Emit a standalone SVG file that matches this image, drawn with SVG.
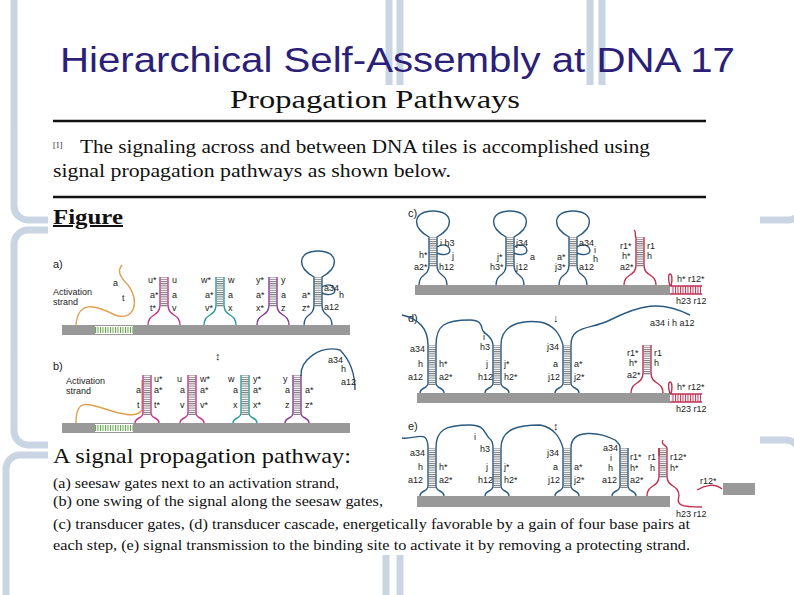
<svg xmlns="http://www.w3.org/2000/svg" xmlns:xlink="http://www.w3.org/1999/xlink" width="794" height="595" viewBox="0 0 794 595">
<style>
.tile{fill:#fff;stroke:#c9d5e3;stroke-width:7}
.ser{font-family:"Liberation Serif",serif;fill:#111}
.lb{font-family:"Liberation Sans",sans-serif;font-size:9px;fill:#222}
.pl{font-family:"Liberation Sans",sans-serif;font-size:11px;fill:#222}
.bar{fill:#999}
.st{fill:none;stroke-width:1.4}
</style>
<defs>
<pattern id="hat" width="4" height="2.2" patternUnits="userSpaceOnUse"><rect width="4" height="1" fill="#777"/></pattern>
<pattern id="hatg" width="2.5" height="4" patternUnits="userSpaceOnUse"><rect width="1" height="4" fill="#5aa040"/></pattern>
<pattern id="hatr" width="2.5" height="4" patternUnits="userSpaceOnUse"><rect width="1" height="4" fill="#c03050"/></pattern>
<g id="gate">
<rect x="-3.5" y="-48" width="7" height="30" fill="url(#hat)"/>
<path class="st" stroke="currentColor" d="M-16 0 C-16 -12 -4 -8 -4 -20 V-48 M4 -48 V-20 C4 -8 16 -12 16 0"/>
</g>
<g id="loopgate">
<rect x="-3.5" y="-48" width="7" height="30" fill="url(#hat)"/>
<path class="st" stroke="currentColor" d="M-14 0 C-14 -12 -4 -8 -4 -20 V-48 C-22 -58 -20 -74 0 -74 C20 -74 22 -58 4 -48 V-20 C4 -8 14 -12 14 0 M4 -38 C12 -43 19 -38 16 -32 C12 -29 6 -31 4 -32"/>
</g>
<g id="stem">
<rect x="-3.5" y="-48" width="7" height="40" fill="url(#hat)"/>
<path class="st" stroke="currentColor" d="M-12 0 C-12 -6 -4 -4 -4 -10 V-48 M4 -48 V-10 C4 -4 12 -6 12 0"/>
</g>
</defs>

<g id="background">
<rect width="794" height="595" fill="#fff"/>
<rect class="tile" x="14" y="-20" width="375" height="240" rx="14"/>
<rect class="tile" x="400" y="-20" width="190" height="240" rx="14"/>
<rect class="tile" x="602" y="-20" width="200" height="240" rx="14"/>
<rect class="tile" x="14" y="230" width="375" height="215" rx="14"/>
<rect class="tile" x="6" y="455" width="380" height="160" rx="14"/>
<rect class="tile" x="400" y="440" width="400" height="170" rx="14"/>
<rect x="48" y="85" width="712" height="470" fill="#fff"/>
</g>

<text x="60" y="72" font-family="Liberation Sans,sans-serif" font-size="35" fill="#2b1f78" textLength="675" lengthAdjust="spacingAndGlyphs">Hierarchical Self-Assembly at DNA 17</text>

<g id="header">
<text class="ser" x="375" y="108" font-size="25" text-anchor="middle" textLength="290" lengthAdjust="spacingAndGlyphs">Propagation Pathways</text>
<line x1="53" y1="121" x2="706" y2="121" stroke="#111" stroke-width="2.5"/>
<text class="ser" x="53" y="148" font-size="8">[1]</text>
<text class="ser" x="80" y="153" font-size="19" textLength="570" lengthAdjust="spacingAndGlyphs">The signaling across and between DNA tiles is accomplished using</text>
<text class="ser" x="53" y="177" font-size="19" textLength="398" lengthAdjust="spacingAndGlyphs">signal propagation pathways as shown below.</text>
<line x1="53" y1="197" x2="706" y2="197" stroke="#111" stroke-width="2.5"/>
<text class="ser" x="53" y="224" font-size="20" font-weight="bold" text-decoration="underline" textLength="70" lengthAdjust="spacingAndGlyphs">Figure</text>
</g>

<g id="panel-a">
<text class="pl" x="53" y="268">a)</text>
<text class="lb" x="53" y="295">Activation</text><text class="lb" x="53" y="305">strand</text>
<rect class="bar" x="62" y="325" width="288" height="10"/>
<rect x="95" y="326" width="38" height="8" fill="#fff"/><rect x="95" y="327" width="38" height="6" fill="url(#hatg)"/>
<path class="st" stroke="#e0a050" d="M76 325 C78 300 95 305 115 315 C135 322 140 300 128 285 C118 275 118 270 122 265"/>
<text class="lb" x="113" y="286">a</text><text class="lb" x="122" y="301">t</text>
<use xlink:href="#gate" x="164" y="325" style="color:#c0378a"/>
<text class="lb" x="148" y="283">u*</text><text class="lb" x="172" y="283">u</text>
<text class="lb" x="150" y="298">a*</text><text class="lb" x="172" y="298">a</text>
<text class="lb" x="150" y="311">t*</text><text class="lb" x="172" y="311">v</text>
<use xlink:href="#gate" x="220" y="325" style="color:#2a9c9c"/>
<text class="lb" x="201" y="283">w*</text><text class="lb" x="228" y="283">w</text>
<text class="lb" x="205" y="298">a*</text><text class="lb" x="228" y="298">a</text>
<text class="lb" x="205" y="311">v*</text><text class="lb" x="228" y="311">x</text>
<use xlink:href="#gate" x="273" y="325" style="color:#8a3a9a"/>
<text class="lb" x="256" y="283">y*</text><text class="lb" x="281" y="283">y</text>
<text class="lb" x="256" y="298">a*</text><text class="lb" x="281" y="298">a</text>
<text class="lb" x="256" y="311">x*</text><text class="lb" x="281" y="311">z</text>
<use xlink:href="#loopgate" x="318" y="325" style="color:#2a5a80"/>
<text class="lb" x="302" y="298">a*</text><text class="lb" x="302" y="311">z*</text>
<text class="lb" x="324" y="291" font-size="7">a34</text><text class="lb" x="339" y="298">h</text><text class="lb" x="324" y="310" font-size="7">a12</text>
<text class="pl" x="215" y="360">↕</text>
</g>

<g id="panel-b">
<text class="pl" x="53" y="370">b)</text>
<text class="lb" x="66" y="384">Activation</text><text class="lb" x="66" y="394">strand</text>
<rect class="bar" x="62" y="423" width="288" height="10"/>
<rect x="95" y="424" width="38" height="8" fill="#fff"/><rect x="95" y="425" width="38" height="6" fill="url(#hatg)"/>
<path class="st" stroke="#e0a050" d="M76 423 C76 395 90 405 115 412 C130 416 138 416 142 410 V380"/>
<use xlink:href="#stem" x="147" y="423" style="color:#c0378a"/>
<text class="lb" x="136" y="393">a</text><text class="lb" x="137" y="408">t</text>
<text class="lb" x="154" y="382">u*</text><text class="lb" x="154" y="393">a*</text><text class="lb" x="154" y="408">t*</text>
<use xlink:href="#stem" x="192" y="423" style="color:#c0378a"/>
<text class="lb" x="177" y="382">u</text><text class="lb" x="180" y="393">a</text><text class="lb" x="180" y="408">v</text>
<text class="lb" x="200" y="382">w*</text><text class="lb" x="200" y="393">a*</text><text class="lb" x="200" y="408">v*</text>
<use xlink:href="#stem" x="245" y="423" style="color:#2a9c9c"/>
<text class="lb" x="228" y="382">w</text><text class="lb" x="233" y="393">a</text><text class="lb" x="233" y="408">x</text>
<text class="lb" x="253" y="382">y*</text><text class="lb" x="253" y="393">a*</text><text class="lb" x="253" y="408">x*</text>
<use xlink:href="#stem" x="297" y="423" style="color:#8a3a9a"/>
<text class="lb" x="283" y="382">y</text><text class="lb" x="285" y="393">a</text><text class="lb" x="285" y="408">z</text>
<text class="lb" x="305" y="393">a*</text><text class="lb" x="305" y="408">z*</text>
<path class="st" stroke="#2a5a80" d="M301 376 C300 360 320 345 340 350 C350 360 355 375 355 390"/>
<text class="lb" x="328" y="363" font-size="7">a34</text><text class="lb" x="341" y="372">h</text><text class="lb" x="341" y="385" font-size="7">a12</text>
</g>

<g id="panel-c">
<text class="pl" x="408" y="217">c)</text>
<rect class="bar" x="415" y="285" width="255" height="10"/>
<use xlink:href="#loopgate" x="433" y="285" style="color:#2a5a80"/>
<text class="lb" x="440" y="246" font-size="8">i h3</text><text class="lb" x="452" y="259">j</text>
<text class="lb" x="419" y="258">h*</text><text class="lb" x="414" y="270" font-size="7">a2*</text><text class="lb" x="439" y="270" font-size="7">h12</text>
<use xlink:href="#loopgate" x="510" y="285" style="color:#2a5a80"/>
<text class="lb" x="516" y="246" font-size="8">j34</text><text class="lb" x="497" y="260">j*</text><text class="lb" x="530" y="260">a</text>
<text class="lb" x="490" y="270" font-size="7">h3*</text><text class="lb" x="516" y="270" font-size="7">j12</text>
<use xlink:href="#loopgate" x="573" y="285" style="color:#2a5a80"/>
<text class="lb" x="579" y="246" font-size="8">a34</text><text class="lb" x="594" y="253">i</text><text class="lb" x="593" y="262">h</text>
<text class="lb" x="557" y="260">a*</text><text class="lb" x="555" y="270" font-size="7">j3*</text><text class="lb" x="579" y="270" font-size="7">a12</text>
<use xlink:href="#gate" x="640" y="285" style="color:#c03050"/>
<path class="st" stroke="#c03050" d="M636 237 C634 234 637 232 634 230"/>
<text class="lb" x="620" y="249" font-size="8">r1*</text><text class="lb" x="647" y="249">r1</text>
<text class="lb" x="622" y="259">h*</text><text class="lb" x="647" y="259">h</text><text class="lb" x="620" y="270" font-size="7">a2*</text>
<rect x="671" y="286" width="30" height="8" fill="url(#hatr)"/>
<path class="st" stroke="#c03050" d="M670 286 C665 270 675 270 671 286 H702 M670 294 H702"/>
<text class="lb" x="677" y="282">h* r12*</text><text class="lb" x="676" y="304" font-size="8">h23 r12</text>
</g>

<g id="panel-d">
<text class="pl" x="408" y="322">d)</text>
<text class="pl" x="553" y="322">↓</text>
<rect class="bar" x="417" y="393" width="253" height="10"/>
<use xlink:href="#stem" x="432" y="393" style="color:#2a5a80"/>
<use xlink:href="#stem" x="497" y="393" style="color:#2a5a80"/>
<use xlink:href="#stem" x="567" y="393" style="color:#2a5a80"/>
<path class="st" stroke="#2a5a80" d="M402 315 C415 318 428 325 428 345 M436 345 C436 325 445 320 470 320 C485 320 480 330 484 332 C486 335 492 336 493 345 M501 345 C501 325 520 320 540 322 C555 325 560 335 563 345 M571 345 C571 325 590 330 610 320 C640 305 660 300 690 315"/>
<text class="lb" x="410" y="352" font-size="8">a34</text><text class="lb" x="418" y="367">h</text><text class="lb" x="408" y="380" font-size="8">a12</text>
<text class="lb" x="439" y="367">h*</text><text class="lb" x="439" y="380" font-size="8">a2*</text>
<text class="lb" x="483" y="340">i</text><text class="lb" x="480" y="350" font-size="8">h3</text><text class="lb" x="486" y="367">j</text><text class="lb" x="478" y="380" font-size="8">h12</text>
<text class="lb" x="504" y="367">j*</text><text class="lb" x="504" y="380" font-size="8">h2*</text>
<text class="lb" x="547" y="350" font-size="8">j34</text><text class="lb" x="553" y="367">a</text><text class="lb" x="548" y="380" font-size="8">j12</text>
<text class="lb" x="574" y="367">a*</text><text class="lb" x="574" y="380" font-size="8">j2*</text>
<text class="lb" x="650" y="326" font-size="8">a34 i  h a12</text>
<use xlink:href="#gate" x="647" y="393" style="color:#c03050"/>
<text class="lb" x="627" y="356" font-size="8">r1*</text><text class="lb" x="654" y="356">r1</text>
<text class="lb" x="629" y="366">h*</text><text class="lb" x="654" y="366">h</text><text class="lb" x="627" y="378" font-size="7">a2*</text>
<rect x="671" y="394" width="30" height="8" fill="url(#hatr)"/>
<path class="st" stroke="#c03050" d="M670 394 C665 378 675 378 671 394 H702 M670 402 H702"/>
<text class="lb" x="677" y="390">h* r12*</text><text class="lb" x="676" y="412" font-size="8">h23 r12</text>
</g>

<g id="panel-e">
<text class="pl" x="408" y="430">e)</text>
<text class="pl" x="553" y="430">↕</text>
<rect class="bar" x="417" y="496" width="253" height="11"/>
<use xlink:href="#stem" x="432" y="496" style="color:#2a5a80"/>
<use xlink:href="#stem" x="497" y="496" style="color:#2a5a80"/>
<use xlink:href="#stem" x="567" y="496" style="color:#2a5a80"/>
<use xlink:href="#stem" x="624" y="496" style="color:#2a5a80"/>
<use xlink:href="#gate" x="663" y="496" style="color:#c03050"/>
<path class="st" stroke="#2a5a80" d="M402 438 C415 440 428 428 428 448 M436 448 C436 430 445 425 470 425 C485 425 484 433 489 438 C492 440 493 443 493 448 M501 448 C501 428 520 425 540 425 C555 428 560 438 563 448 M571 448 C571 428 600 432 615 440 C619 444 620 444 620 448"/>
<text class="lb" x="410" y="456" font-size="8">a34</text><text class="lb" x="418" y="470">h</text><text class="lb" x="408" y="483" font-size="8">a12</text>
<text class="lb" x="439" y="470">h*</text><text class="lb" x="439" y="483" font-size="8">a2*</text>
<text class="lb" x="474" y="440">i</text><text class="lb" x="480" y="452" font-size="8">h3</text><text class="lb" x="486" y="470">j</text><text class="lb" x="478" y="483" font-size="8">h12</text>
<text class="lb" x="504" y="470">j*</text><text class="lb" x="504" y="483" font-size="8">h2*</text>
<text class="lb" x="547" y="456" font-size="8">j34</text><text class="lb" x="553" y="470">a</text><text class="lb" x="548" y="483" font-size="8">j12</text>
<text class="lb" x="574" y="470">a*</text><text class="lb" x="574" y="483" font-size="8">j2*</text>
<text class="lb" x="603" y="451" font-size="8">a34</text><text class="lb" x="610" y="461">i</text><text class="lb" x="608" y="471">h</text><text class="lb" x="602" y="483" font-size="8">a12</text>
<text class="lb" x="630" y="460" font-size="8">r1*</text><text class="lb" x="630" y="471">h*</text><text class="lb" x="630" y="483" font-size="8">a2*</text>
<text class="lb" x="648" y="460" font-size="8">r1</text><text class="lb" x="650" y="471">h</text>
<text class="lb" x="670" y="460" font-size="8">r12*</text><text class="lb" x="670" y="471">h*</text>
<path class="st" stroke="#c03050" d="M659 448 V456 M667 448 C667 445 660 445 663 440 M679 496 C676 505 680 507 702 507"/>
<text class="lb" x="676" y="517" font-size="8">h23 r12</text>
<path class="st" stroke="#c03050" d="M697 490 C705 485 715 483 722 489"/>
<text class="lb" x="700" y="484" font-size="8">r12*</text>
<rect class="bar" x="723" y="483" width="32" height="12"/>
</g>

<g id="caption">
<text class="ser" x="53" y="463" font-size="22" textLength="298" lengthAdjust="spacingAndGlyphs">A signal propagation pathway:</text>
<text class="ser" x="53" y="488" font-size="14" textLength="286" lengthAdjust="spacingAndGlyphs">(a) seesaw gates next to an activation strand,</text>
<text class="ser" x="53" y="506" font-size="14" textLength="330" lengthAdjust="spacingAndGlyphs">(b) one swing of the signal along the seesaw gates,</text>
<text class="ser" x="53" y="529" font-size="14" textLength="637" lengthAdjust="spacingAndGlyphs">(c) transducer gates, (d) transducer cascade, energetically favorable by a gain of four base pairs at</text>
<text class="ser" x="53" y="550" font-size="14" textLength="637" lengthAdjust="spacingAndGlyphs">each step, (e) signal transmission to the binding site to activate it by removing a protecting strand.</text>
</g>
</svg>
